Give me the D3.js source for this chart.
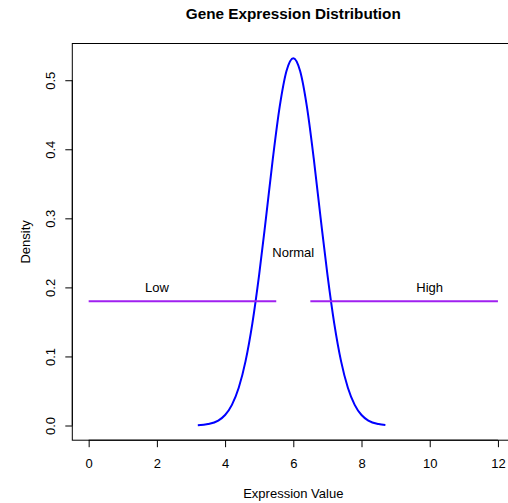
<!DOCTYPE html>
<html><head><meta charset="utf-8">
<script src="https://cdn.jsdelivr.net/npm/d3@7"></script>
<style>body{margin:0;background:#fff}svg{display:block}text{font-family:"Liberation Sans",Arial,sans-serif;fill:#000}</style>
</head><body>
<script>
const titleText = "Gene Expression Distribution";
const xLabel = "Expression Value";
const yLabel = "Density";
const xTicks = [0, 2, 4, 6, 8, 10, 12];
const yTicks = [0, 0.1, 0.2, 0.3, 0.4, 0.5];
// density curve points
const curveX = [3.2, 3.5, 3.8, 4.0, 4.2, 4.4, 4.6, 4.8, 5.0, 5.2, 5.4, 5.6, 5.8, 6.0, 6.2, 6.4, 6.6, 6.8, 7.0, 7.2, 7.4, 7.6, 7.8, 8.0, 8.2, 8.5, 8.7];
const curveY = [0.0005, 0.0021, 0.0072, 0.0152, 0.0299, 0.0546, 0.0932, 0.1479, 0.2187, 0.3011, 0.3863, 0.4613, 0.5133, 0.5319, 0.5133, 0.4613, 0.3863, 0.3011, 0.2187, 0.1479, 0.0932, 0.0546, 0.0299, 0.0152, 0.0072, 0.0021, 0.0008];
// threshold segments
const segStart = [0, 6.5];
const segEnd = [5.5, 12];
const segY = [0.18, 0.18];
// annotation labels
const labelText = ["Low", "Normal", "High"];
const labelX = [2, 6, 10];
const labelY = [0.2, 0.25, 0.2];

(function () {
const W = 508, H = 503, FS = 13;
const svg = d3.select("body").append("svg").attr("width", W).attr("height", H);
const pl = 72.3, pr = 514.3, pt = 43.5, pb = 440.2;
const x = d3.scaleLinear().domain([-0.48, 12.48]).range([pl, pr]);
const yMax = d3.max(curveY);
const y = d3.scaleLinear().domain([-0.04*yMax, 1.04*yMax]).range([pb, pt]);

// box
svg.append("rect").attr("x", pl).attr("y", pt).attr("width", pr-pl).attr("height", pb-pt)
  .attr("fill", "none").attr("stroke", "#000").attr("stroke-width", 1);

// x axis
const xa = svg.append("g").attr("transform", `translate(0,${pb})`)
  .call(d3.axisBottom(x).tickValues(xTicks).tickFormat(d3.format("d")).tickSize(7).tickPadding(11.5));
xa.select(".domain").attr("d", `M${x(0)},0H${x(12)}`);
xa.selectAll("text").attr("font-size", FS).style("font-family", "Liberation Sans, Arial, sans-serif");

// y axis
const ya = svg.append("g").attr("transform", `translate(${pl},0)`)
  .call(d3.axisLeft(y).tickValues(yTicks).tickFormat(d3.format(".1f")).tickSize(7));
ya.select(".domain").attr("d", `M0,${y(0)}V${y(0.5)}`);
ya.selectAll(".tick text").attr("font-size", FS).attr("x", null).attr("dy", null)
  .attr("text-anchor", "middle").attr("transform", "translate(-17.5,0) rotate(-90)")
  .style("font-family", "Liberation Sans, Arial, sans-serif");

// title and labels
svg.append("text").attr("x", (pl+pr)/2).attr("y", 19).attr("text-anchor", "middle")
  .attr("font-size", 15.3).attr("font-weight", "bold").text(titleText);
svg.append("text").attr("x", (pl+pr)/2).attr("y", 497.5).attr("text-anchor", "middle")
  .attr("font-size", FS).text(xLabel);
svg.append("text").attr("transform", `translate(29.5,${(pt+pb)/2}) rotate(-90)`).attr("text-anchor", "middle")
  .attr("font-size", FS).text(yLabel);

// curve
const pts = curveX.map((v, i) => [v, curveY[i]]);
svg.append("path").datum(pts)
  .attr("d", d3.line().x(d => x(d[0])).y(d => y(d[1])).curve(d3.curveMonotoneX))
  .attr("fill", "none").attr("stroke", "#0000FF").attr("stroke-width", 2);

// segments
svg.selectAll("line.seg").data(segStart).enter().append("line").attr("class", "seg")
  .attr("x1", (d) => x(d)).attr("x2", (d, i) => x(segEnd[i]))
  .attr("y1", (d, i) => y(segY[i])).attr("y2", (d, i) => y(segY[i]))
  .attr("stroke", "#A020F0").attr("stroke-width", 2);

// annotations
svg.selectAll("text.ann").data(labelText).enter().append("text").attr("class", "ann")
  .attr("x", (d, i) => x(labelX[i])).attr("y", (d, i) => y(labelY[i]))
  .attr("dy", "0.35em").attr("text-anchor", "middle").attr("font-size", FS).text(d => d);
})();
</script>
</body></html>
